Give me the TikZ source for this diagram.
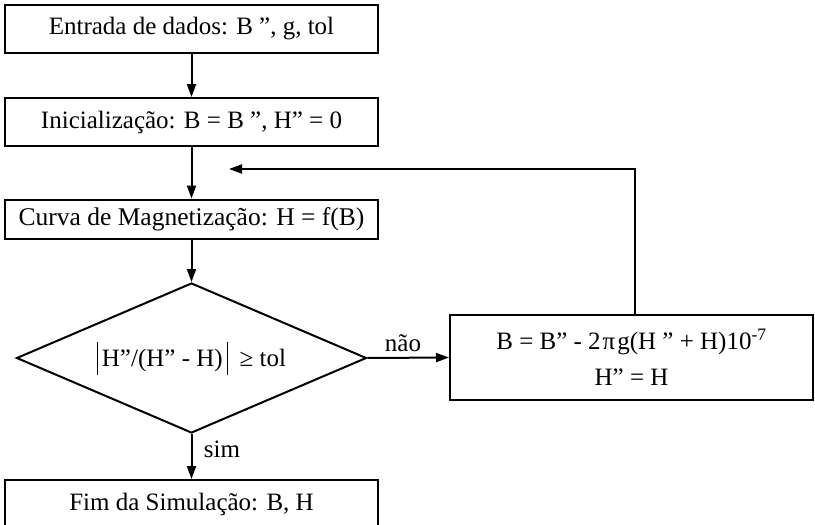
\documentclass[tikz,border=0pt]{standalone}
\usepackage{fontspec}
\setmainfont{Liberation Serif}
\usetikzlibrary{arrows.meta,shapes.geometric,calc}

\tikzset{
  every node/.style={font=\fontsize{25}{30}\selectfont},
  procbox/.style={draw, line width=2pt, rectangle, inner sep=0pt,
                  minimum width=373pt, minimum height=47pt},
  decision/.style={draw, line width=2pt, diamond, inner sep=0pt, aspect=2.33,
                   minimum width=350pt, minimum height=150pt},
  flow/.style={line width=2pt, -{Triangle[length=13pt,width=9pt]}},
  lbl/.style={inner sep=0pt}
}

\newcommand{\absbar}{\rule[-8pt]{1pt}{33pt}}

\begin{document}
\begin{tikzpicture}[x=1pt,y=-1pt]
  \useasboundingbox (0,0) rectangle (815,525);

  % main column
  \node[procbox, minimum height=48pt] (entrada) at (191.5,29)
        {Entrada de dados: B ”, g, tol};
  \node[procbox, minimum height=48pt] (inic) at (191.5,122)
        {Inicialização: B = B ”, H” = 0};
  \node[procbox, minimum height=39pt, font=\fontsize{25.5}{30}\selectfont] (curva) at (191.5,219)
        {Curva de Magnetização: H = f(B)};
  \node[decision] (teste) at (191.5,358)
        {\absbar\kern4pt H”/(H” - H)\kern4pt\absbar\kern12pt ≥ tol};
  \node[procbox, minimum height=48pt, anchor=north] (fim) at (191.5,479)
        {Fim da Simulação: B, H};

  % update block
  \node[procbox, minimum width=363pt, minimum height=85pt, align=center] (atual) at (631.5,357.5)
        {B = B” - 2\kern2ptπ\kern2ptg(H ” + H)10\textsuperscript{-7}\\[6pt] H” = H};

  % loop-back route
  \coordinate (volta) at (635,169);
  \coordinate (chegada) at (229,169);

  % connectors
  \draw[flow] (entrada) -- (inic);
  \draw[flow] (inic) -- (curva);
  \draw[flow] (curva.south) -- (teste.north);
  \draw[flow] (teste.east) -- (atual.west);
  \draw[flow] (teste.south) -- (fim.north);
  \draw[flow] (atual.north -| volta) -- (volta) -- (chegada);

  % branch labels
  \node[lbl] (nao) at (403,343) {não};
  \node[lbl] (sim) at (222,449) {sim};
\end{tikzpicture}
\end{document}
